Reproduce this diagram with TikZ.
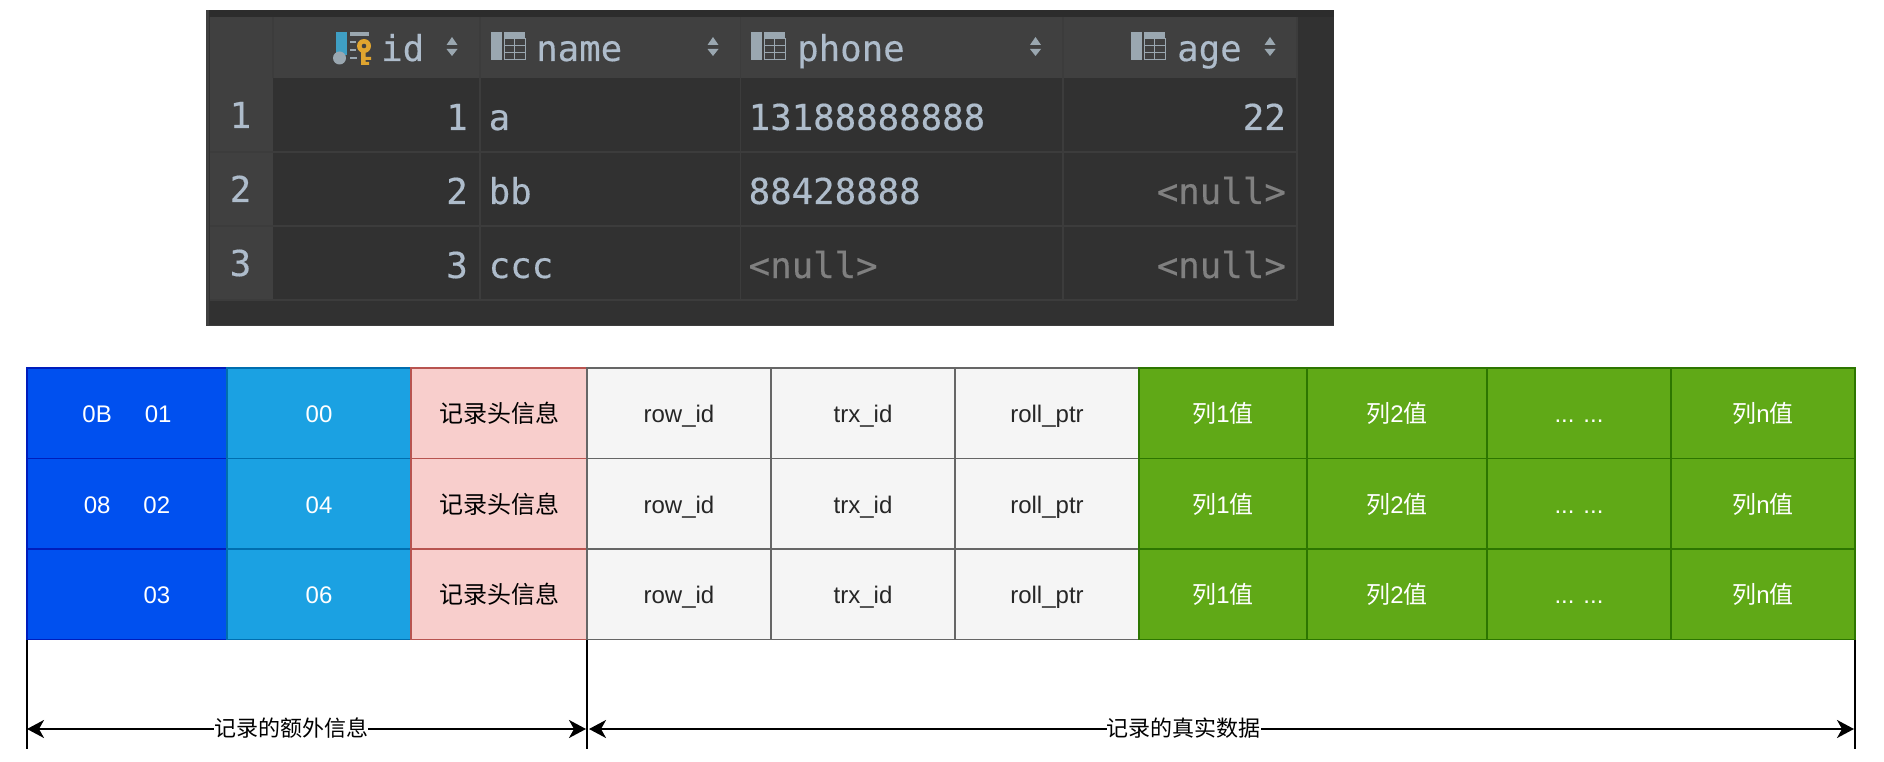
\documentclass[tikz,border=0pt]{standalone}
\usepackage{fontspec}
\setmainfont{Liberation Sans}
\newfontfamily\cjk{Noto Sans CJK SC}
\newfontfamily\tablemono[FakeBold=0.35]{DejaVu Sans Mono}
\usetikzlibrary{arrows.meta}
\definecolor{tfg}{HTML}{AEBCCB}
\definecolor{tnull}{HTML}{808080}
\definecolor{tbg}{HTML}{313131}
\definecolor{thd}{HTML}{404040}
\definecolor{tgrid}{HTML}{3C3C3C}
\definecolor{tedge}{HTML}{2C2C2C}
\definecolor{ticon}{HTML}{9AA7B0}
\definecolor{kbar}{HTML}{3F9FC4}
\definecolor{kgold}{HTML}{E0A52F}
\newcommand{\cj}[1]{{\cjk #1}}
\newcommand{\tblicon}[2]{%
  \fill[ticon] (#1,#2) rectangle ++(11,28);
  \fill[ticon] (#1+13,#2) rectangle ++(21,7);
  \draw[ticon,line width=1pt] (#1+13,#2+7) rectangle ++(21,21)
     (#1+13,#2+14) -- ++(21,0) (#1+13,#2+21) -- ++(21,0) (#1+23.5,#2+7) -- ++(0,21);
}
\newcommand{\sorticon}[1]{%
  \fill[ticon] (#1-5.5,45) -- (#1+5.5,45) -- (#1,37) -- cycle;
  \fill[ticon] (#1-5.5,49) -- (#1+5.5,49) -- (#1,56) -- cycle;
}
\tikzset{
  cellbox/.style={draw,line width=1.6pt,anchor=north west,inner sep=0pt,outer sep=0pt,
     minimum height=90.5pt,font=\fontsize{24}{24}\selectfont,text height=19pt,text depth=0pt},
  blueCell/.style={cellbox,fill=blueF,draw=blueS,text=white},
  skyCell/.style={cellbox,fill=skyF,draw=skyS,text=white},
  pinkCell/.style={cellbox,fill=pinkF,draw=pinkS,text=black},
  grayCell/.style={cellbox,fill=grayF,draw=grayS,text=black!85},
  greenCell/.style={cellbox,fill=greenF,draw=greenS,text=white},
  ttext/.style={font=\tablemono\fontsize{35.7}{36}\selectfont,text=tfg,inner sep=0pt},
  nulltext/.style={ttext,text=tnull},
  dimline/.style={black,line width=2pt},
  dimarrow/.style={black,line width=2pt,{Stealth[length=17pt,width=18pt,inset=5pt]}-{Stealth[length=17pt,width=18pt,inset=5pt]}},
  dimlabel/.style={fill=white,inner sep=0pt,font=\cjk\fontsize{22}{24}\selectfont,text=black,text height=17pt,text depth=2pt},
}
\definecolor{blueF}{HTML}{0050EF}\definecolor{blueS}{HTML}{001DBC}
\definecolor{skyF}{HTML}{1BA1E2}\definecolor{skyS}{HTML}{006EAF}
\definecolor{pinkF}{HTML}{F8CECC}\definecolor{pinkS}{HTML}{B85450}
\definecolor{grayF}{HTML}{F5F5F5}\definecolor{grayS}{HTML}{666666}
\definecolor{greenF}{HTML}{60A917}\definecolor{greenS}{HTML}{2D7600}
\begin{document}
\begin{tikzpicture}[x=1pt,y=-1pt]
\useasboundingbox (0,0) rectangle (1884,762);
\fill[white] (0,0) rectangle (1884,762);
% --- screenshot of the result table
\fill[tbg] (206,10) rectangle (1334,325);
\fill[tedge] (206,10) rectangle (1334,17);
\fill[thd] (206,10) rectangle (209,325);
\fill[thd] (210,17) rectangle (1297.5,78);
\fill[thd] (210,78) rectangle (273,300);
\draw[tgrid,line width=1.6pt]
  (480,17) -- (480,300) (740.5,17) -- (740.5,300) (1063,17) -- (1063,300) (1297,17) -- (1297,300)
  (273,17) -- (273,78)
  (210,152) -- (1297,152) (210,226) -- (1297,226) (210,300) -- (1297,300);
\draw[thd!80!tbg,line width=1pt] (206,325) -- (1334,325);
% icons
\fill[kbar] (335.5,32) rectangle (347,55);
\fill[ticon] (339.5,58) circle (6.5pt);
\fill[ticon] (350,32) rectangle (369,36);
\draw[ticon,line width=1.2pt] (350,42) -- (356,42) (350,50) -- (356,50) (350,58) -- (357,58);
\fill[kgold] (364,46) circle (7pt);
\fill[kgold] (361,50) rectangle (365.5,65) (365,57) rectangle (371,60) (365,62) rectangle (369,65);
\fill[thd] (364,46) circle (2.3pt);
\tblicon{491}{32}\tblicon{751}{32}\tblicon{1131}{32}
\sorticon{452}\sorticon{713}\sorticon{1035.5}\sorticon{1270}
% header
\node[ttext,anchor=base west] (hid) at (381,61) {id};
\node[ttext,anchor=base west] (hname) at (536,61) {name};
\node[ttext,anchor=base west] (hphone) at (797,61) {phone};
\node[ttext,anchor=base west] (hage) at (1177,61) {age};
% rows
\node[ttext,anchor=base] (i1) at (240.5,128) {1};
\node[ttext,anchor=base] (i2) at (240.5,202) {2};
\node[ttext,anchor=base] (i3) at (240.5,276) {3};
\node[ttext,anchor=base east] (id1) at (468,130) {1};
\node[ttext,anchor=base east] (id2) at (468,204) {2};
\node[ttext,anchor=base east] (id3) at (468,278) {3};
\node[ttext,anchor=base west] (n1) at (488.5,130) {a};
\node[ttext,anchor=base west] (n2) at (488.5,204) {bb};
\node[ttext,anchor=base west] (n3) at (488.5,278) {ccc};
\node[ttext,anchor=base west] (p1) at (748.5,130) {13188888888};
\node[ttext,anchor=base west] (p2) at (748.5,204) {88428888};
\node[nulltext,anchor=base west] (p3) at (748.5,278) {<null>};
\node[ttext,anchor=base east] (a1) at (1286,130) {22};
\node[nulltext,anchor=base east] (a2) at (1286,204) {<null>};
\node[nulltext,anchor=base east] (a3) at (1286,278) {<null>};
% --- record format grid
\foreach \r/\yy/\vala/\valb in {
   1/368/{0B\hspace{33pt}01}/00,
   2/458.5/{08\hspace{33pt}02}/04,
   3/549/{\phantom{08}\hspace{33pt}03}/06}{
  \node[blueCell,minimum width=200pt] (a\r) at (27,\yy) {\vala};
  \node[skyCell,minimum width=184pt] (b\r) at (227,\yy) {\valb};
  \node[pinkCell,minimum width=176pt] (c\r) at (411,\yy) {\cj{记录头信息}};
  \node[grayCell,minimum width=184pt] (d\r) at (587,\yy) {row\_id};
  \node[grayCell,minimum width=184pt] (e\r) at (771,\yy) {trx\_id};
  \node[grayCell,minimum width=184pt] (f\r) at (955,\yy) {roll\_ptr};
  \node[greenCell,minimum width=168pt] (g\r) at (1139,\yy) {\cj{列}1\cj{值}};
  \node[greenCell,minimum width=180pt] (h\r) at (1307,\yy) {\cj{列}2\cj{值}};
  \node[greenCell,minimum width=184pt] (j\r) at (1487,\yy) {... ...};
  \node[greenCell,minimum width=184pt] (k\r) at (1671,\yy) {\cj{列}n\cj{值}};
}
% --- dimension lines
\coordinate (t1) at (a3.south west);
\coordinate (t2) at (c3.south east);
\coordinate (t3) at (k3.south east);
\coordinate (v1) at (27,748.5);
\coordinate (v2) at (587,748.5);
\coordinate (v3) at (1855,748.5);
\coordinate (m1) at (27,729);
\coordinate (m2) at (586,729);
\coordinate (m3) at (589,729);
\coordinate (m4) at (1854,729);
\draw[dimline] (t1) -- (v1);
\draw[dimline] (t2) -- (v2);
\draw[dimline] (t3) -- (v3);
\draw[dimarrow] (m1) -- node[dimlabel,pos=0.473] (l1) {记录的额外信息} (m2);
\draw[dimarrow] (m3) -- node[dimlabel,pos=0.47] (l2) {记录的真实数据} (m4);
\end{tikzpicture}
\end{document}
